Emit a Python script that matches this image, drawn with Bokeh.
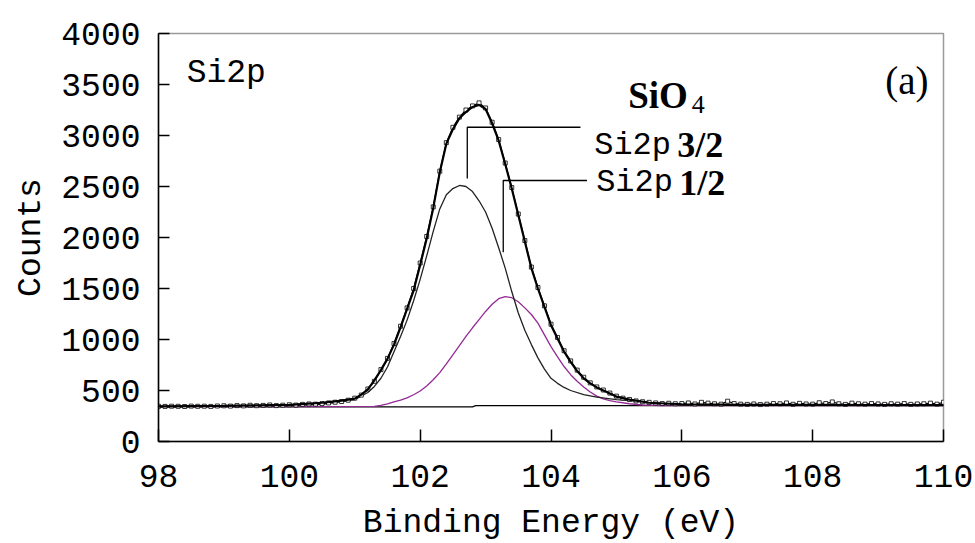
from bokeh.plotting import figure
from bokeh.models import Label, FixedTicker, Range1d
from bokeh.embed import file_html
from bokeh.resources import INLINE

# ---------------- data ----------------
raw_x = [round(98 + 0.1 * i, 1) for i in range(121)]
raw_counts = [
    345, 344, 346, 345, 343, 347, 345, 346, 344, 348,
    350, 347, 352, 349, 355, 351, 354, 358, 352, 356,
    360, 357, 364, 368, 366, 372, 378, 385, 392, 405,
    425, 455, 515, 590, 705, 815, 960, 1130, 1310, 1500,
    1750, 2010, 2300, 2650, 2930, 3080, 3180, 3250, 3290, 3320,
    3270, 3130, 2960, 2730, 2490, 2230, 1970, 1710, 1510, 1330,
    1150, 1020, 890, 790, 700, 630, 575, 535, 505, 475,
    445, 425, 412, 398, 390, 384, 378, 372, 375, 370,
    372, 378, 368, 384, 376, 370, 366, 395, 372, 366,
    364, 368, 362, 366, 372, 370, 378, 365, 374, 368,
    366, 380, 372, 388, 370, 364, 376, 370, 366, 372,
    368, 364, 370, 366, 372, 364, 368, 370, 376, 366,
    385,
]

env_x = [98.0, 99.0, 99.5, 100.0, 100.5, 100.8, 101.0, 101.1, 101.2, 101.3, 101.4,
         101.5, 101.6, 101.7, 101.8, 101.9, 102.0, 102.1, 102.2, 102.3, 102.4,
         102.5, 102.6, 102.7, 102.8, 102.9, 103.0, 103.1, 103.2, 103.3, 103.4,
         103.5, 103.6, 103.7, 103.8, 103.9, 104.0, 104.1, 104.2, 104.3, 104.4,
         104.5, 104.6, 104.7, 104.8, 104.9, 105.0, 105.2, 105.5, 106.0, 107.0,
         108.0, 109.0, 110.0]
env_counts = [345, 350, 355, 360, 380, 400, 420, 460, 510, 600, 700,
              810, 950, 1120, 1300, 1480, 1730, 1990, 2290, 2640, 2920,
              3060, 3170, 3230, 3280, 3300, 3260, 3120, 2950, 2720, 2480,
              2220, 1960, 1700, 1500, 1320, 1140, 1010, 880, 780, 690,
              620, 570, 530, 500, 470, 440, 410, 380, 365, 360,
              360, 358, 358]

p32_x = [98.0, 100.0, 100.5, 101.0, 101.2, 101.3, 101.4, 101.5, 101.6, 101.7,
         101.8, 101.9, 102.0, 102.1, 102.2, 102.3, 102.4, 102.5, 102.6, 102.7,
         102.8, 102.9, 103.0, 103.1, 103.2, 103.3, 103.4, 103.5, 103.6, 103.7,
         103.8, 103.9, 104.0, 104.1, 104.2, 104.3, 104.5, 104.7, 105.0, 105.3,
         105.6, 106.0, 110.0]
p32_counts = [340, 350, 365, 410, 480, 540, 620, 730, 880, 1030,
              1190, 1380, 1590, 1820, 2060, 2280, 2420, 2480, 2510, 2500,
              2450, 2360, 2250, 2090, 1900, 1700, 1470, 1260, 1090, 950,
              820, 710, 620, 570, 530, 500, 460, 435, 410, 395,
              370, 355, 352]

p12_x = [98.0, 101.3, 101.4, 101.5, 101.6, 101.7, 101.8, 101.9, 102.0, 102.1,
         102.2, 102.3, 102.4, 102.5, 102.6, 102.7, 102.8, 102.9, 103.0, 103.1,
         103.2, 103.3, 103.4, 103.5, 103.6, 103.7, 103.8, 103.9, 104.0, 104.1,
         104.2, 104.3, 104.4, 104.5, 104.6, 104.7, 104.8, 104.9, 105.0, 105.2,
         105.4, 105.7, 110.0]
p12_counts = [340, 345, 355, 370, 388, 405, 428, 458, 495, 545,
              605, 675, 760, 850, 940, 1030, 1115, 1195, 1275, 1345,
              1400, 1420, 1410, 1370, 1310, 1245, 1160, 1045, 930, 830,
              735, 655, 590, 535, 485, 445, 418, 400, 388, 370,
              358, 352, 352]

base_x = [98.0, 102.8, 102.85, 110.0]
base_counts = [338, 340, 352, 352]

x_ticks = [98, 100, 102, 104, 106, 108, 110]
y_ticks = [0, 500, 1000, 1500, 2000, 2500, 3000, 3500, 4000]

# leader lines for the component labels (data units)
lead32_x = [102.72, 102.72, 104.45]
lead32_y = [2578, 3081, 3081]
lead12_x = [103.27, 103.27, 104.55]
lead12_y = [1856, 2559, 2559]

MONO = "Liberation Mono"
SERIF = "Liberation Serif"
PURPLE = "#952995"
FS = "33px"

p = figure(frame_width=785, frame_height=408, output_backend="svg",
           toolbar_location=None,
           x_range=Range1d(98, 110), y_range=Range1d(0, 4000),
           min_border_left=158, min_border_right=32, min_border_top=33,
           min_border_bottom=102)
p.background_fill_color = "white"
p.border_fill_color = "white"
p.outline_line_color = "#9a9a9a"
p.outline_line_width = 1.5
p.xgrid.visible = False
p.ygrid.visible = False

for ax in (p.xaxis[0], p.yaxis[0]):
    ax.axis_line_color = "black"
    ax.axis_line_width = 1.5
    ax.major_tick_line_color = "black"
    ax.major_tick_line_width = 1.5
    ax.major_tick_out = 0
    ax.minor_tick_line_color = None
    ax.major_label_text_font = MONO
    ax.major_label_text_font_size = FS
    ax.major_label_text_color = "black"
    ax.axis_label_text_font = MONO
    ax.axis_label_text_font_size = FS
    ax.axis_label_text_font_style = "normal"
    ax.axis_label_text_color = "black"

p.xaxis.ticker = FixedTicker(ticks=x_ticks)
p.yaxis.ticker = FixedTicker(ticks=y_ticks)
p.xaxis.major_tick_in = 12
p.yaxis.major_tick_in = 11
p.xaxis.major_label_standoff = 23
p.yaxis.major_label_standoff = 18
p.xaxis.axis_label = "Binding Energy (eV)"
p.yaxis.axis_label = "Counts"
p.xaxis.axis_label_standoff = 15
p.yaxis.axis_label_standoff = 8

# baseline
p.line(base_x, base_counts, line_color="black", line_width=1.2)
# components
p.line(p12_x, p12_counts, line_color=PURPLE, line_width=1.3)
p.line(p32_x, p32_counts, line_color="#222222", line_width=1.3)
# raw data
p.line(raw_x, raw_counts, line_color="black", line_width=1.2)
p.scatter(raw_x, raw_counts, marker="square", size=4, fill_color="white",
          line_color="black", line_width=0.8)
# envelope
p.line(env_x, env_counts, line_color="black", line_width=2.2)

# leader lines
p.line(lead32_x, lead32_y, line_color="black", line_width=1.3)
p.line(lead12_x, lead12_y, line_color="black", line_width=1.3)

def lab(x, y, text, font, size, style="normal"):
    p.add_layout(Label(x=x, y=y, text=text, text_font=font, text_font_size=size,
                       text_font_style=style, text_color="black",
                       text_baseline="alphabetic", text_align="left"))

lab(98.43, 3608, "Si2p", MONO, FS)
lab(109.11, 3539, "(a)", SERIF, "39px")
lab(105.18, 3392, "SiO", SERIF, "37px", "bold")
lab(106.15, 3300, "4", SERIF, "26px")
lab(104.66, 2902, "Si2p", MONO, "32px")
lab(105.93, 2902, "3/2", SERIF, "36px", "bold")
lab(104.69, 2539, "Si2p", MONO, "32px")
lab(105.96, 2539, "1/2", SERIF, "36px", "bold")

open("out.html", "w").write(file_html(p, INLINE))
